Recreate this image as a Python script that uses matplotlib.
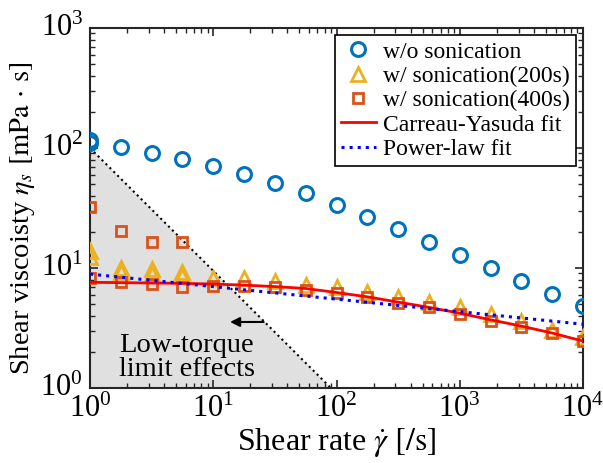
import numpy as np
import matplotlib
matplotlib.use("Agg")
import matplotlib.pyplot as plt
import matplotlib.transforms as mtransforms
from matplotlib.ticker import LogLocator, NullFormatter

plt.rcParams['font.family'] = ['Liberation Serif', 'DejaVu Serif']
plt.rcParams['mathtext.fontset'] = 'stix'

# ---- data ----
shear_rate = [1, 1.78, 3.16, 5.62, 10, 17.8, 31.6, 56.2, 100, 178, 316, 562,
              1000, 1780, 3160, 5620, 10000]
visc_wo = [110, 102, 91, 81, 70.8, 60.7, 51, 42.2, 33.5, 26.6, 21.1, 16.5,
           12.8, 10.0, 7.8, 6.07, 4.82]
visc_wo_extra_x = [1]
visc_wo_extra = [116]

visc_200 = [12.4, 10.0, 8.9, 8.5, 8.2, 8.2, 7.8, 7.2, 6.95, 6.3, 5.73, 5.2,
            4.73, 4.14, 3.6, 3.04, 2.66]
visc_200_extra_x = [1, 1.78, 3.16, 5.62]
visc_200_extra = [13.9, 9.3, 9.8, 9.3]

visc_400 = [8.3, 7.7, 7.4, 7.0, 7.1, 7.1, 7.0, 6.6, 6.2, 5.75, 5.1, 4.75,
            4.15, 3.6, 3.22, 2.87, 2.46]
visc_400_extra_x = [1, 1.78, 3.16, 5.62]
visc_400_extra = [32.2, 20.3, 16.5, 16.5]

cy_fit = [7.6, 7.55, 7.5, 7.45, 7.35, 7.2, 7.0, 6.75, 6.25, 5.75, 5.2, 4.7,
          4.2, 3.7, 3.28, 2.87, 2.46]
pl_x = [1, 10000]
pl_fit = [8.9, 3.4]

limit_x = [1, 90]
limit_y = [100, 1]

# ---- plot ----
fig = plt.figure(figsize=(6.03, 4.63), dpi=100)
ax = fig.add_axes([90/603, 75/463, 493/603, 360/463])

ax.fill_between(limit_x, limit_y, [1, 1], color='#e0e0e0', lw=0, zorder=0)
ax.plot(limit_x, limit_y, ls=':', color='black', lw=1.5, zorder=1)

c_blue = '#0072BD'
c_yel = '#EDB120'
c_org = '#D95319'

ax.plot(shear_rate, visc_wo, 'o', mfc='none', mec=c_blue, mew=2.2, ms=10,
        label='w/o sonication', zorder=3)
ax.plot(visc_wo_extra_x, visc_wo_extra, 'o', mfc='none', mec=c_blue, mew=2.2, ms=10, zorder=3)
ax.plot(shear_rate, visc_200, '^', mfc='none', mec=c_yel, mew=2, ms=9.5,
        label='w/ sonication(200s)', zorder=3)
ax.plot(visc_200_extra_x, visc_200_extra, '^', mfc='none', mec=c_yel, mew=2, ms=9.5, zorder=3)
ax.plot(shear_rate, visc_400, 's', mfc='none', mec=c_org, mew=2, ms=7.5,
        label='w/ sonication(400s)', zorder=3)
ax.plot(visc_400_extra_x, visc_400_extra, 's', mfc='none', mec=c_org, mew=2, ms=7.5, zorder=3)
ax.plot(shear_rate, cy_fit, '-', color='#FF0000', lw=2, label='Carreau-Yasuda fit', zorder=4)
ax.plot(pl_x, pl_fit, ':', color='#0000FF', lw=2.2, label='Power-law fit', zorder=4)

ax.annotate('', xy=(13.0, 3.55), xytext=(27, 3.55),
            arrowprops=dict(arrowstyle='-|>', color='black', lw=1.5,
                            mutation_scale=14), zorder=5)
ax.text(1.72, 1.80, 'Low-torque\nlimit effects', fontsize=20.5, ha='left', va='center',
        linespacing=0.95, zorder=5)

ax.set_xscale('log')
ax.set_yscale('log')
ax.set_xlim(1, 1e4)
ax.set_ylim(1, 1e3)

ax.xaxis.set_major_locator(LogLocator(base=10, numticks=10))
ax.yaxis.set_major_locator(LogLocator(base=10, numticks=10))
ax.xaxis.set_minor_locator(LogLocator(base=10, subs=np.arange(2, 10), numticks=20))
ax.yaxis.set_minor_locator(LogLocator(base=10, subs=np.arange(2, 10), numticks=20))
ax.xaxis.set_minor_formatter(NullFormatter())
ax.yaxis.set_minor_formatter(NullFormatter())

ax.tick_params(which='both', direction='in', top=True, right=True, colors='#262626',
               labelcolor='black')
ax.tick_params(which='major', length=6, width=1.2, labelsize=22, pad=5)
ax.tick_params(which='minor', length=3.5, width=1.0)
for s in ax.spines.values():
    s.set_linewidth(1.5)
    s.set_color('#262626')

# shift y tick labels slightly upward (as in the reference)
offset = mtransforms.ScaledTranslation(0, 2.5/72, fig.dpi_scale_trans)
for lab in ax.get_yticklabels():
    lab.set_transform(lab.get_transform() + offset)

ax.set_xlabel(r'Shear rate $\dot{\gamma}$ $[/\mathrm{s}]$', fontsize=23, labelpad=1)
ax.set_ylabel(r'Shear viscoisty $\eta_s$ $[\mathrm{mPa}\,\cdot\,\mathrm{s}]$', fontsize=20.5)
ax.yaxis.set_label_coords(-0.107, 0.472)

leg = ax.legend(loc='upper right', fontsize=17, frameon=True, fancybox=False,
                edgecolor='black', framealpha=1, handlelength=1.5, handletextpad=0.3,
                borderpad=0.25, labelspacing=0.12, borderaxespad=0.3)
leg.get_frame().set_linewidth(1.2)

fig.savefig('out.png', dpi=100)
